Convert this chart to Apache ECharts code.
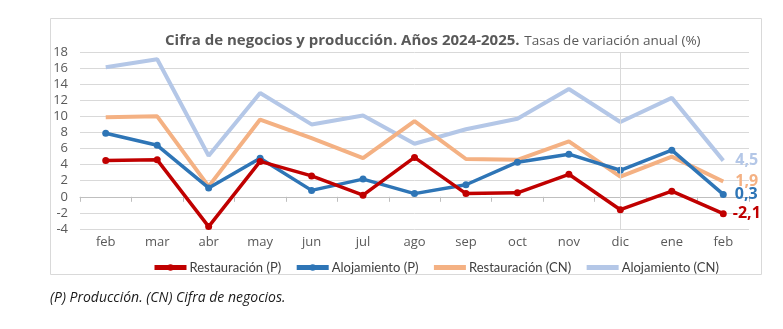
<!DOCTYPE html>
<html>
<head>
<meta charset="utf-8">
<script src="https://cdn.jsdelivr.net/npm/echarts@6/dist/echarts.min.js"></script>
<style>
html,body{margin:0;padding:0;background:#fff;}
#c{width:783px;height:329px;}
</style>
</head>
<body>
<div id="c"></div>
<script>
const categories = ['feb','mar','abr','may','jun','jul','ago','sep','oct','nov','dic','ene','feb'];
const restauracionP = [4.5, 4.6, -3.7, 4.4, 2.6, 0.2, 4.9, 0.4, 0.5, 2.8, -1.6, 0.7, -2.1];
const alojamientoP = [7.9, 6.4, 1.1, 4.8, 0.8, 2.2, 0.4, 1.5, 4.3, 5.3, 3.3, 5.8, 0.3];
const restauracionCN = [9.9, 10.0, 1.3, 9.6, 7.3, 4.8, 9.4, 4.7, 4.6, 6.9, 2.5, 5.0, 1.9];
const alojamientoCN = [16.1, 17.1, 5.1, 12.9, 9.0, 10.1, 6.6, 8.4, 9.7, 13.4, 9.3, 12.3, 4.5];
const seriesNames = ['Restauración (P)','Alojamiento (P)','Restauración (CN)','Alojamiento (CN)'];
const yTicks = {min: -4, max: 18, interval: 2};
const markCategory = 10;

const FONT = '"Open Sans", "Liberation Sans", sans-serif';
const last = categories.length - 1;

function mk(name, data, color, width, withSymbol, z, dist, dy) {
  return {
    name: name, type: 'line', data: data.map((v, i) => i === last ? {
      value: v,
      label: {show: true, position: 'right', distance: dist, offset: [0, dy],
        formatter: p => String(p.value).replace('.', ','),
        color: color, fontWeight: 'bold', fontSize: 16, fontFamily: FONT}
    } : v),
    xAxisIndex: 0,
    symbol: 'circle', symbolSize: withSymbol ? 7 : 0, showSymbol: true,
    lineStyle: {color: color, width: width},
    itemStyle: {color: color},
    labelLayout: {hideOverlap: false},
    z: z, animation: false
  };
}

const chart = echarts.init(document.getElementById('c'));
chart.setOption({
  animation: false,
  textStyle: {fontFamily: FONT},
  title: {
    text: '{b|Cifra de negocios y producción. Años 2024-2025.} {n|Tasas de variación anual (%)}',
    left: 160, top: 27,
    textStyle: {rich: {
      b: {fontSize: 15, fontWeight: 'bold', color: '#595959', fontFamily: FONT},
      n: {fontSize: 13.5, fontWeight: 'normal', color: '#595959', fontFamily: FONT}
    }}
  },
  legend: {
    left: 147, top: 256, itemWidth: 32, itemHeight: 8, itemGap: 13,
    textStyle: {fontSize: 13, color: '#404040', fontFamily: 'Lato, "Open Sans", sans-serif', padding: [0, 0, 0, -2]},
    data: [
      {name: seriesNames[0], lineStyle: {width: 5}},
      {name: seriesNames[1], lineStyle: {width: 5}},
      {name: seriesNames[2], lineStyle: {width: 5}, itemStyle: {opacity: 0}},
      {name: seriesNames[3], lineStyle: {width: 5}, itemStyle: {opacity: 0}}
    ]
  },
  grid: {left: 80, right: 34, top: 52, bottom: 100},
  xAxis: [{
    type: 'category', data: categories,
    axisLine: {onZero: true, lineStyle: {color: '#BFBFBF', width: 1}},
    axisTick: {show: true, length: 5, lineStyle: {color: '#BFBFBF'}},
    axisLabel: {show: false}
  }, {
    type: 'category', data: categories, position: 'bottom',
    axisLine: {show: false, onZero: false}, axisTick: {show: false},
    axisLabel: {show: true, margin: 7, fontSize: 13, color: '#595959', fontFamily: FONT}
  }],
  yAxis: {
    type: 'value', min: yTicks.min, max: yTicks.max, interval: yTicks.interval,
    axisLine: {show: false}, axisTick: {show: false},
    axisLabel: {fontSize: 13, color: '#595959', margin: 12, fontFamily: FONT},
    splitLine: {lineStyle: {color: '#D9D9D9', width: 1}}
  },
  graphic: [{
    type: 'rect', shape: {x: 50.5, y: 18.5, width: 711, height: 256},
    style: {fill: 'none', stroke: '#D9D9D9', lineWidth: 1}, z: -1
  }, {
    type: 'text', left: 50, top: 291,
    style: {text: '(P) Producción. (CN) Cifra de negocios.', font: 'italic 14px ' + FONT, fill: '#1a1a1a'}
  }],
  series: [
    Object.assign(mk(seriesNames[3], alojamientoCN, '#B4C7E7', 4, false, 2, 12, -4), {
      markLine: {symbol: 'none', silent: true, label: {show: false},
        lineStyle: {color: '#D9D9D9', width: 1, type: 'solid'},
        data: [{xAxis: markCategory}]}
    }),
    mk(seriesNames[2], restauracionCN, '#F4B183', 4, false, 3, 12, -4),
    mk(seriesNames[1], alojamientoP, '#2E75B6', 3.5, true, 4, 8, 3),
    mk(seriesNames[0], restauracionP, '#C00000', 3.5, true, 5, 6, 0)
  ]
});
</script>
</body>
</html>
